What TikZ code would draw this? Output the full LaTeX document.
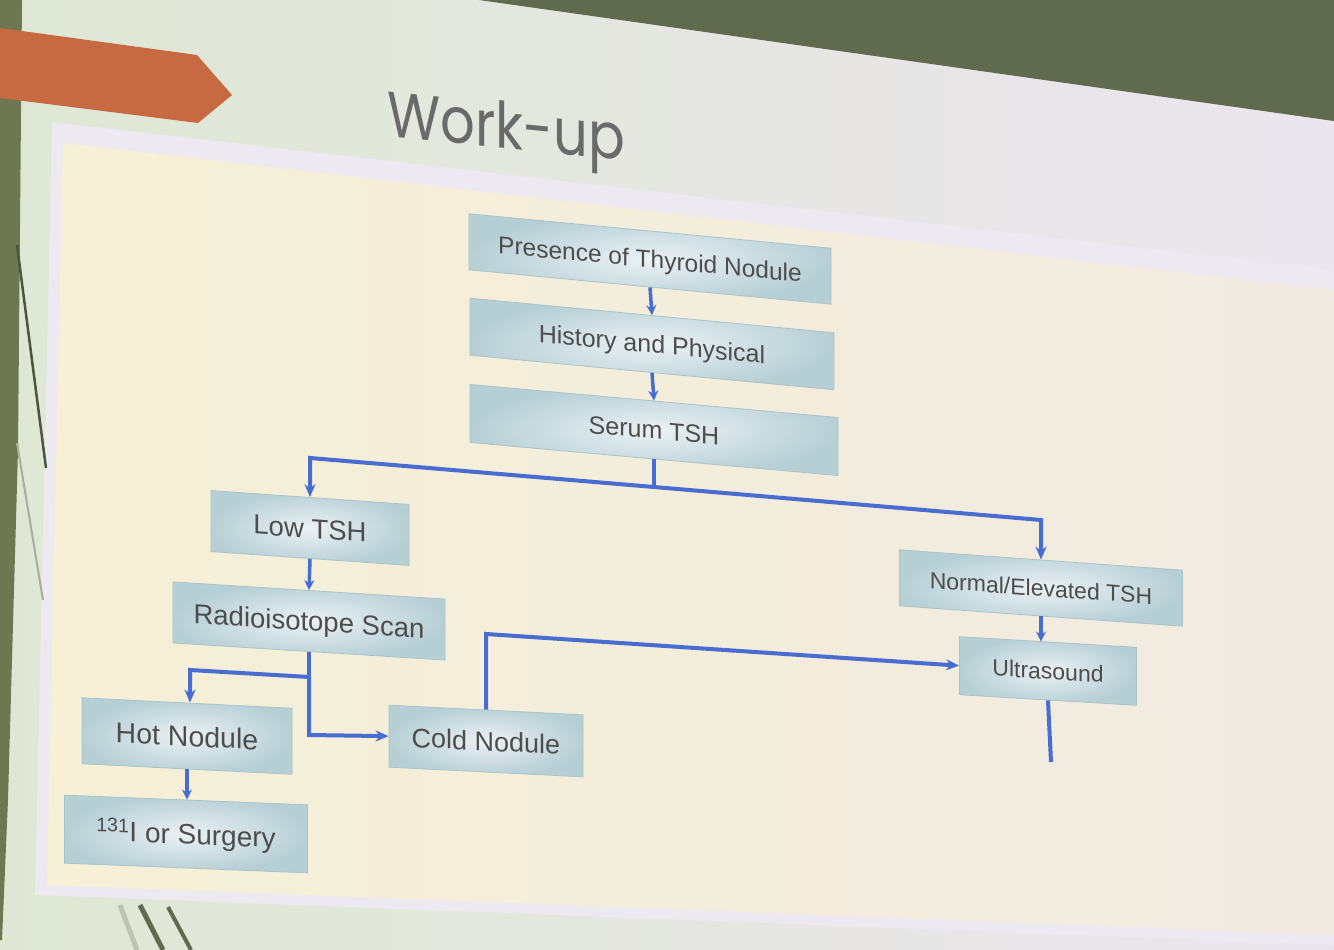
\documentclass[tikz,border=0pt]{standalone}
\usepackage{fontspec}
\setmainfont{Liberation Sans}
\newfontfamily\titlefont{Poppins}
\usetikzlibrary{arrows.meta}
\definecolor{bgleft}{HTML}{DFE7D4}
\definecolor{bgright}{HTML}{EBE6EE}
\definecolor{darkolive}{HTML}{5F6A4F}
\definecolor{stripolive}{HTML}{6D7853}
\definecolor{bannerorange}{HTML}{C76A42}
\definecolor{panelborder}{HTML}{ECE9F0}
\definecolor{creamleft}{HTML}{F5F0D6}
\definecolor{creamright}{HTML}{F1EAE2}
\definecolor{boxout}{HTML}{B6CFD5}
\definecolor{boxin}{HTML}{EBF1F4}
\definecolor{boxedge}{HTML}{A9C4C9}
\definecolor{txtgray}{HTML}{4D4D4D}
\definecolor{titlegray}{HTML}{6A6A6A}
\definecolor{lineblue}{HTML}{486CD0}
\newcommand{\slbox}[8]{%
  \begin{scope}[shift={(#2,#3)},yslant=#4]
    \pgfmathsetmacro{\bxth}{0.72*#5}
    \node[box,transform shape,minimum width=#6pt,minimum height=#7pt,
          text height=\bxth pt,
          font={\fontsize{#5}{#5}\selectfont}] (#1) at (0,0) {#8};
  \end{scope}}
\begin{document}
\begin{tikzpicture}[x=1pt,y=-1pt,
  box/.style={rectangle,draw=boxedge,line width=0.8pt,inner color=boxin,
    outer color=boxout,text=txtgray,inner sep=0pt,align=center,
    text depth=0pt},
  conn/.style={draw=lineblue,line width=4pt},
  arr/.style={conn,-{Stealth[length=13pt,width=11pt]}},
  sarr/.style={draw=lineblue,line width=3.5pt,-{Stealth[length=10pt,width=10pt]}}]
\useasboundingbox (0,0) rectangle (1334,950);
% background of the photo / slide
\shade[left color=bgleft,right color=bgright] (0,0) rectangle (1334,950);
\fill[darkolive] (479,0) -- (1334,0) -- (1334,121) -- cycle;
\fill[stripolive] (0,0) -- (22,0) -- (18,450) -- (8,800) -- (2,940) -- (0,940) -- cycle;
\fill[bannerorange] (0,28) -- (197,55) -- (232,95) -- (198,123) -- (0,98) -- cycle;
\fill[panelborder] (52,122) -- (1334,270) -- (1334,945) -- (35,895) -- cycle;
\shade[left color=creamleft,right color=creamright]
  (63,143) -- (1334,290) -- (1334,935) -- (47,885) -- cycle;
\draw[color=darkolive!80!black,line width=2.5pt] (17,245) -- (46,468);
\draw[color=black!25!bgleft,line width=2pt] (17,443) -- (43,600);
\draw[color=black!15!bgleft,line width=5pt] (120,905) -- (137,950);
\draw[color=darkolive,line width=5pt] (140,905) -- (163,950);
\draw[color=darkolive,line width=4pt] (168,907) -- (191,950);
% title
\begin{scope}[shift={(506,126)},yslant=-0.1,xscale=0.85]
  \node[transform shape,text=titlegray,inner sep=0pt,text height=44.8pt,text depth=0pt,
        font={\titlefont\fontsize{64}{64}\selectfont}] (title) at (0,0) {Work-up};
\end{scope}
% boxes
\slbox{pres}{650}{259}{-0.095}{24.5}{362}{56}{Presence of Thyroid Nodule}
\slbox{hist}{652}{344}{-0.095}{25}{364}{57}{History and Physical}
\slbox{serum}{654}{430}{-0.09}{25}{368}{58}{Serum TSH}
\slbox{low}{310}{528}{-0.07}{27.5}{198}{61}{Low TSH}
\slbox{radio}{309}{621}{-0.063}{27.5}{272}{61}{Radioisotope Scan}
\slbox{normal}{1041}{588}{-0.072}{23}{283}{56}{Normal/Elevated TSH}
\slbox{ultra}{1048}{671}{-0.06}{23}{177}{58}{Ultrasound}
\slbox{hot}{187}{736}{-0.05}{28.5}{210}{66}{Hot Nodule}
\slbox{cold}{486}{741}{-0.05}{27}{194}{62}{Cold Nodule}
\slbox{iso}{186}{834}{-0.04}{28}{243}{68}{\textsuperscript{131}I or Surgery}
% junction points
\coordinate (j1) at (654,487);
\coordinate (jL) at (310,458);
\coordinate (jR) at (1041,520);
\coordinate (jr) at (309,677);
\coordinate (jH) at (190,670);
\coordinate (jC) at (309,735);
\coordinate (jU) at (486,634);
\coordinate (uend) at (1051,762);
% connectors
\draw[sarr] (pres.south) -- (hist.north);
\draw[sarr] (hist.south) -- (serum.north);
\draw[conn] (serum.south) -- (j1);
\draw[arr] (j1) -- (jL) -- (low.north);
\draw[arr] (j1) -- (jR) -- (normal.north);
\draw[sarr] (low.south) -- (radio.north);
\draw[conn] (radio.south) -- (jr);
\draw[arr] (jr) -- (jH) -- (jH |- hot.north);
\draw[arr] (jr) -- (jC) -- (cold.west);
\draw[sarr] (hot.south) -- (hot.south |- iso.north);
\draw[arr] (cold.north) -- (jU) -- (ultra.west);
\draw[sarr] (normal.south) -- (normal.south |- ultra.north);
\draw[conn] (ultra.south) -- (uend);
\end{tikzpicture}
\end{document}
